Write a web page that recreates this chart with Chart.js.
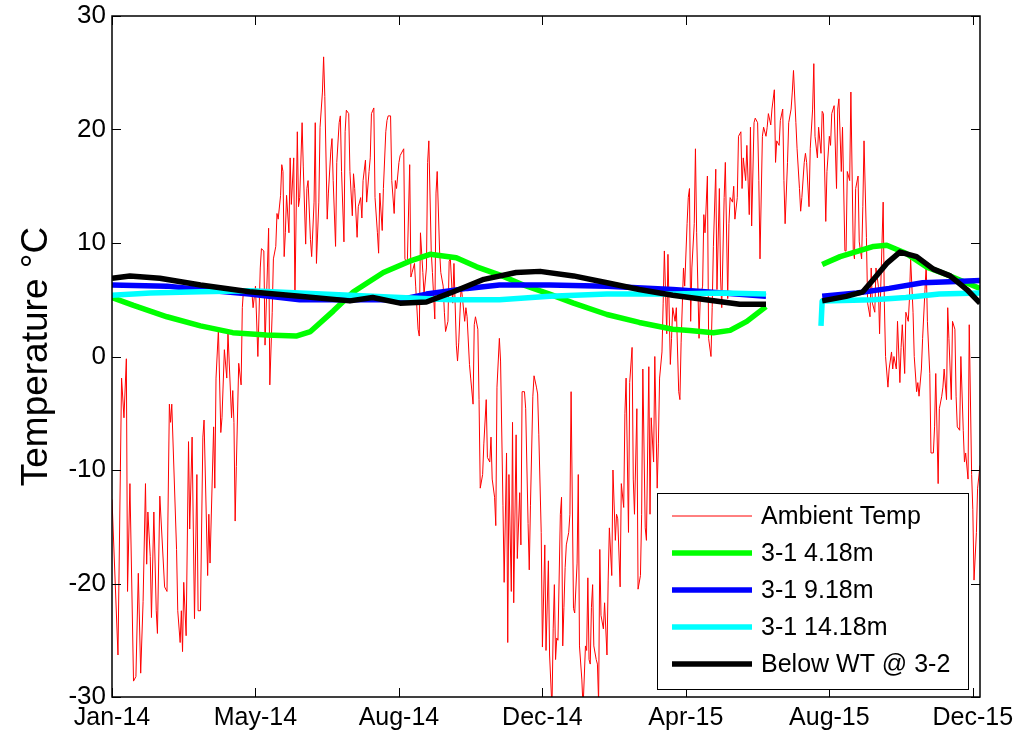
<!DOCTYPE html>
<html>
<head>
<meta charset="utf-8">
<script src="https://cdn.jsdelivr.net/npm/chart.js@4/dist/chart.umd.min.js"></script>
<style>
  html, body { margin: 0; padding: 0; background: #fff; }
</style>
</head>
<body>
<canvas id="temps" width="1013" height="738"></canvas>
<script>
// x values are days since 1 Jan 2014
const xTickDays = [0, 120, 240, 360, 480, 600, 720];
const xTickLabels = ["Jan-14", "May-14", "Aug-14", "Dec-14", "Apr-15", "Aug-15", "Dec-15"];
const yTicks = [-30, -20, -10, 0, 10, 20, 30];

// [day, temp]
const ambient = [
  [0,-12.6],[5,-26.3],[8,-1.9],[10,-5.4],[12,-0.2],[13,-20.7],[15,-11.2],[18,-28.6],[20,-28.2],[22,-19.1],
  [24,-27.9],[26,-21.6],[28,-11.2],[29,-18.3],[30,-13.7],[32,-17.6],[33,-23.0],[35,-13.7],[37,-22.4],[38,-24.4],
  [40,-12.3],[44,-20.3],[46,-20.7],[48,-4.2],[49,-5.8],[50,-4.2],[54,-17.0],[55,-22.4],[57,-25.2],[58,-22.4],
  [59,-26.0],[60,-19.9],[62,-24.6],[64,-7.5],[65,-15.2],[67,-7.1],[69,-23.1],[71,-10.4],[72,-22.4],[74,-22.4],
  [76,-7.1],[77,-5.6],[80,-19.3],[81,-13.9],[82,-18.2],[85,-6.2],[86,-11.6],[87,-1.9],[89,2.4],[91,-6.7],
  [92,-5.4],[94,0.6],[96,-1.9],[97,2.1],[100,-5.4],[101,-3.0],[102,-5.8],[103,-14.5],[104,-9.7],[106,-0.6],
  [108,-2.5],[109,4.3],[110,5.9],[113,6.0],[116,5.5],
  [117,5.7],[118,4.3],[120,6.2],[122,0.0],[124,7.8],[125,9.5],[127,9.3],[128,1.0],[130,7.8],[131,11.3],
  [132,-2.5],[134,3.9],[135,8.6],[137,9.7],[138,12.6],[139,12.1],[141,14.2],[142,16.9],[143,16.3],[144,8.8],
  [145,10.9],[146,14.2],[148,10.9],[149,17.5],[150,13.4],[152,17.5],[153,5.1],[155,19.8],[156,13.2],[157,14.0],
  [159,20.6],[160,16.7],[162,9.9],[163,14.8],[164,15.5],[166,10.3],[167,8.8],[169,13.6],[170,20.6],[171,8.2],
  [173,13.6],[174,20.2],[176,23.3],[177,26.4],[178,22.9],[180,12.1],[181,14.4],[183,18.1],[184,19.2],[185,15.5],
  [187,9.7],[188,17.1],[190,20.6],[191,21.2],[192,16.3],[194,10.1],[195,19.8],[196,21.7],[198,21.4],[199,16.3],
  [201,12.4],[202,16.1],[203,14.8],[205,10.5],[206,13.2],[208,14.0],[209,12.2],[210,15.5],[212,17.3],[213,13.6],
  [215,16.3],[216,17.5],[217,21.4],[219,21.9],[220,14.0],[222,10.9],[223,9.1],[224,14.4],[226,11.1],[227,14.8],
  [229,19.8],[230,20.8],[231,21.2],[233,21.2],[234,15.5],[236,12.6],[237,15.5],[238,14.8],[240,17.1],[241,17.7],
  [244,18.3],[245,8.6],[247,8.2],[249,16.9],[250,7.0],[251,7.4],[253,8.2],[254,6.2],[256,2.4],[257,1.8],
  [258,10.9],[260,7.4],[261,5.5],[263,7.8],[264,17.1],[265,19.0],[267,9.3],[268,7.4],[270,3.3],[271,14.4],
  [272,16.3],[274,9.3],[275,7.4],[277,6.2],[278,3.9],[279,2.2],[281,3.1],[282,8.4],[283,8.6],[285,4.7],
  [286,8.2],[288,1.0],[289,-0.4],[290,1.2],[292,6.2],[293,5.3],[295,3.1],[296,4.3],[297,3.5],[299,-0.7],
  [300,-1.9],[302,-4.2],[303,2.8],[304,3.5],[306,2.4],[307,-3.8],[308,-11.6],[310,-10.4],[311,-7.7],[313,-3.8],
  [314,-8.9],[316,-9.3],[317,-7.1],[318,-10.8],[320,-12.4],[321,-14.9],[322,-2.7],[324,1.6],[325,-0.4],[327,-13.1],
  [328,-19.9],[330,-8.5],[331,-25.2],[332,-10.4],[334,-20.7],[335,-5.8],[336,-21.7],[338,-6.9],[339,-17.8],[341,-12.0],
  [342,-16.6],[343,-3.1],[345,-3.1],[346,-4.6],[348,-14.7],[349,-18.8],[350,-13.1],[352,-3.5],[353,-1.7],[355,-2.7],
  [356,-3.3],[357,-6.9],[359,-15.5],[360,-25.6],[362,-16.6],
  [363,-25.9],[365,-18.0],[366,-26.3],[368,-31.0],[369,-24.0],[370,-20.1],[371,-26.7],[372,-24.8],[373,-25.0],[375,-13.9],
  [376,-12.4],[377,-25.5],[378,-22.1],[379,-18.6],[380,-16.6],[382,-15.5],[383,-13.9],[384,-3.1],[386,-22.2],[387,-22.6],
  [389,-18.2],[390,-10.4],[391,-25.5],[393,-28.5],[394,-31.0],[396,-25.5],[397,-25.9],[398,-19.5],[399,-26.7],[400,-27.1],
  [401,-22.1],[402,-20.1],[403,-25.5],[405,-26.7],[406,-27.1],[407,-30.5],[408,-17.0],[409,-22.8],[411,-24.0],[412,-21.7],
  [414,-26.3],[415,-19.7],[416,-15.1],[418,-19.3],[419,-10.0],[421,-16.2],[422,-13.9],[423,-14.3],[425,-20.3],[426,-11.2],
  [428,-13.3],[429,-5.0],[430,-1.9],[432,-15.5],[433,-2.3],[435,0.8],[436,-10.8],[437,-13.9],[439,-4.6],[440,-20.5],
  [442,-19.3],[443,-13.9],[444,-1.1],[446,-15.1],[447,-16.2],[449,-0.9],[450,-13.9],[451,-5.4],[453,-9.3],[454,0.0],
  [456,-11.6],[457,-7.7],[458,-1.9],[460,0.4],[461,4.7],[462,9.3],[464,2.0],[465,9.0],[467,-0.7],[468,1.6],
  [469,4.3],[471,3.1],[472,4.3],[474,-3.1],[475,-3.8],[476,1.2],[478,7.8],[479,6.2],[481,11.7],[482,14.0],
  [483,14.8],[484,3.1],[485,7.8],[487,11.7],[488,18.3],[489,10.9],[491,1.6],[492,5.1],[494,6.2],[495,12.5],
  [496,10.9],[498,15.9],[499,1.6],[501,0.0],[502,4.3],[503,9.7],[505,16.5],[506,5.9],[508,14.8],[509,7.0],
  [510,4.3],[512,14.0],[513,17.1],[515,5.1],[516,11.7],[517,14.0],[519,13.6],[520,15.0],[521,12.1],[523,14.0],
  [524,19.4],[526,19.8],[527,14.8],[528,17.5],[530,15.5],[531,18.6],[533,12.5],[534,20.2],[535,11.5],[537,20.6],
  [538,21.0],[540,20.6],[541,15.5],[542,8.6],[544,19.4],[545,20.2],[547,19.4],[548,20.2],[549,21.4],[551,20.4],
  [552,21.8],[554,23.5],[555,17.1],[556,19.0],[558,18.6],[559,20.8],[561,21.8],[562,15.5],[563,11.7],[565,17.1],
  [566,20.6],[568,21.8],[569,23.3],[570,25.2],[572,20.6],[573,18.3],[575,14.8],[576,12.8],[577,14.0],[579,17.1],
  [580,17.9],[581,17.1],[583,13.2],[584,18.3],[586,21.8],[587,25.8],[588,19.4],[590,17.5],[591,20.2],[593,17.9],
  [594,21.6],[595,21.4],[597,11.9],[598,16.3],[600,19.4],[601,18.6],[602,21.4],
  [604,22.1],[606,14.8],[607,21.8],[608,22.7],[610,16.3],[611,20.2],[613,9.3],[614,9.3],[615,16.3],[617,15.5],
  [618,23.3],[620,9.3],[621,8.6],[622,14.8],[624,15.9],[625,10.1],[627,8.6],[628,13.2],[629,19.0],[631,10.5],
  [632,4.7],[634,3.5],[635,7.8],[636,4.7],[638,3.9],[639,7.8],[641,6.2],[642,2.0],[643,6.2],[645,13.6],
  [646,4.7],[647,0.0],[649,-2.7],[650,-1.1],[652,0.4],[653,-1.1],[654,0.0],[656,-1.1],[657,3.1],[659,-2.3],
  [660,0.8],[661,2.8],[663,-1.5],[664,3.9],[666,3.1],[667,5.1],[668,8.6],[670,3.9],[671,0.0],[673,-3.1],
  [674,-2.3],[675,-3.5],[677,-1.1],[678,1.6],[680,5.9],[681,8.2],[682,3.1],[684,-1.5],[685,-8.5],[687,-8.5],
  [688,-6.2],[689,-1.5],[691,-11.2],[692,-4.6],[694,-3.5],[695,-2.7],[696,-1.1],[698,-3.8],[699,4.3],[700,1.6],
  [702,-3.8],[703,3.1],[705,2.4],[706,-3.5],[707,-6.2],[709,-6.5],[710,0.0],[712,-6.5],[713,-9.3],[714,-8.5],
  [716,-10.8],[717,2.8],[719,-10.4],[720,-13.5],[721,-19.7],[723,-15.5],[724,-11.6],[726,-9.6]
];

// ground temperatures, null marks the logger gap in summer 2015
const depth418 = [
  [0,5.2],[18,4.5],[46,3.5],[74,2.7],[101,2.1],[129,1.9],[154,1.8],[166,2.2],[185,4.0],[202,5.7],
  [227,7.4],[249,8.4],[266,9.0],[288,8.7],[305,7.9],[324,7.2],[344,6.3],[366,5.5],[386,4.7],[414,3.7],
  [441,3.0],[469,2.4],[483,2.3],[503,2.1],[517,2.3],[531,3.1],[547,4.4],[570,null],
  [594,8.1],[609,8.8],[637,9.7],[648,9.8],[664,9.1],[681,7.9],[701,7.1],[726,6.0]
];
const depth918 = [
  [0,6.3],[46,6.2],[74,5.9],[115,5.5],[157,5.0],[199,5.0],[241,5.0],[263,5.5],[297,6.0],[324,6.3],
  [366,6.3],[414,6.2],[469,5.9],[511,5.6],[547,5.3],[570,null],
  [594,5.3],[623,5.6],[650,6.0],[678,6.5],[706,6.6],[726,6.7]
];
const depth1418 = [
  [0,5.4],[32,5.6],[74,5.7],[115,5.8],[157,5.6],[199,5.4],[241,5.2],[283,5.0],[324,5.0],[366,5.3],
  [414,5.5],[469,5.5],[511,5.6],[547,5.5],[570,null],
  [593,2.7],[594,4.9],[637,5.0],[664,5.2],[692,5.5],[726,5.6]
];
const belowWT = [
  [0,6.9],[15,7.1],[40,6.9],[74,6.3],[115,5.7],[157,5.3],[199,4.9],[218,5.2],[241,4.7],[263,4.8],
  [283,5.6],[311,6.8],[338,7.4],[358,7.5],[386,7.1],[414,6.5],[441,5.9],[469,5.4],[497,5.0],[525,4.6],
  [547,4.6],[570,null],
  [594,4.9],[614,5.3],[628,5.7],[637,6.8],[648,8.2],[659,9.2],[673,8.8],[687,7.7],[701,7.1],[715,5.9],[726,4.7]
];

const FONT = '"Liberation Sans", Arial, Helvetica, sans-serif';
const toXY = (rows) => rows.map(([x, y]) => ({ x, y }));

function series(label, rows, color, width, order) {
  return {
    label,
    data: toXY(rows),
    borderColor: color,
    backgroundColor: color,
    borderWidth: width,
    pointRadius: 0,
    tension: 0,
    spanGaps: false,
    clip: 0,
    order,
    borderJoinStyle: "round",
  };
}

// MATLAB-ish box with inward ticks, legend inside, rotated y title
const decorations = {
  id: "decorations",
  afterDraw(chart) {
    const { ctx, chartArea: a, scales } = chart;
    const tl = 9;
    ctx.save();
    ctx.strokeStyle = "#000";
    ctx.lineWidth = 1.5;
    ctx.strokeRect(a.left, a.top, a.right - a.left, a.bottom - a.top);
    ctx.lineWidth = 1;
    ctx.beginPath();
    xTickDays.forEach((d) => {
      const px = Math.round(scales.x.getPixelForValue(d)) + 0.5;
      ctx.moveTo(px, a.bottom); ctx.lineTo(px, a.bottom - tl);
      ctx.moveTo(px, a.top); ctx.lineTo(px, a.top + tl);
    });
    yTicks.forEach((v) => {
      const py = Math.round(scales.y.getPixelForValue(v)) + 0.5;
      ctx.moveTo(a.left, py); ctx.lineTo(a.left + tl, py);
      ctx.moveTo(a.right, py); ctx.lineTo(a.right - tl, py);
    });
    ctx.stroke();

    // legend
    const box = { x: 657, y: 493, w: 311, h: 196 };
    ctx.fillStyle = "#fff";
    ctx.fillRect(box.x, box.y, box.w, box.h);
    ctx.lineWidth = 1;
    ctx.strokeRect(box.x + 0.5, box.y + 0.5, box.w, box.h);
    ctx.font = "25px " + FONT;
    ctx.textBaseline = "middle";
    ctx.textAlign = "left";
    chart.data.datasets.forEach((ds, i) => {
      const ly = box.y + 23 + i * 37;
      ctx.strokeStyle = ds.borderColor;
      ctx.lineWidth = ds.borderWidth;
      ctx.beginPath();
      ctx.moveTo(672, ly);
      ctx.lineTo(752, ly);
      ctx.stroke();
      ctx.fillStyle = "#000";
      ctx.fillText(ds.label, 761, ly + 1);
    });

    // y axis title
    ctx.translate(47, (a.top + a.bottom) / 2);
    ctx.rotate(-Math.PI / 2);
    ctx.font = "37px " + FONT;
    ctx.textAlign = "center";
    ctx.textBaseline = "alphabetic";
    ctx.fillStyle = "#000";
    ctx.fillText("Temperature \u00B0C", 0, 0);
    ctx.restore();
  },
};

new Chart(document.getElementById("temps"), {
  type: "line",
  data: {
    datasets: [
      series("Ambient Temp", ambient, "#ff0000", 1, 5),
      series("3-1 4.18m", depth418, "#00ff00", 5.5, 4),
      series("3-1 9.18m", depth918, "#0000ff", 5.5, 3),
      series("3-1 14.18m", depth1418, "#00ffff", 5.5, 2),
      series("Below WT @ 3-2", belowWT, "#000000", 5.5, 1),
    ],
  },
  options: {
    responsive: false,
    animation: false,
    devicePixelRatio: 1,
    layout: { padding: { top: 16, right: 33, left: 0, bottom: 0 } },
    plugins: { legend: { display: false }, tooltip: { enabled: false } },
    scales: {
      x: {
        type: "linear",
        min: 0,
        max: 726,
        afterBuildTicks: (s) => { s.ticks = xTickDays.map((v) => ({ value: v })); },
        afterFit: (s) => {
          s.height = 41;
          s.paddingLeft = 0; s.paddingRight = 0; s.paddingTop = 0; s.paddingBottom = 0;
        },
        grid: { display: false, drawTicks: false },
        border: { display: false },
        ticks: {
          autoSkip: false,
          maxRotation: 0,
          padding: 6,
          color: "#000",
          font: { family: FONT, size: 25 },
          callback: (v) => xTickLabels[xTickDays.indexOf(v)],
        },
      },
      y: {
        type: "linear",
        min: -30,
        max: 30,
        afterBuildTicks: (s) => { s.ticks = yTicks.map((v) => ({ value: v })); },
        afterFit: (s) => {
          s.width = 112;
          s.paddingLeft = 0; s.paddingRight = 0; s.paddingTop = 0; s.paddingBottom = 0;
        },
        grid: { display: false, drawTicks: false },
        border: { display: false },
        ticks: {
          padding: 6,
          color: "#000",
          font: { family: FONT, size: 26 },
        },
      },
    },
  },
  plugins: [decorations],
});
</script>
</body>
</html>
